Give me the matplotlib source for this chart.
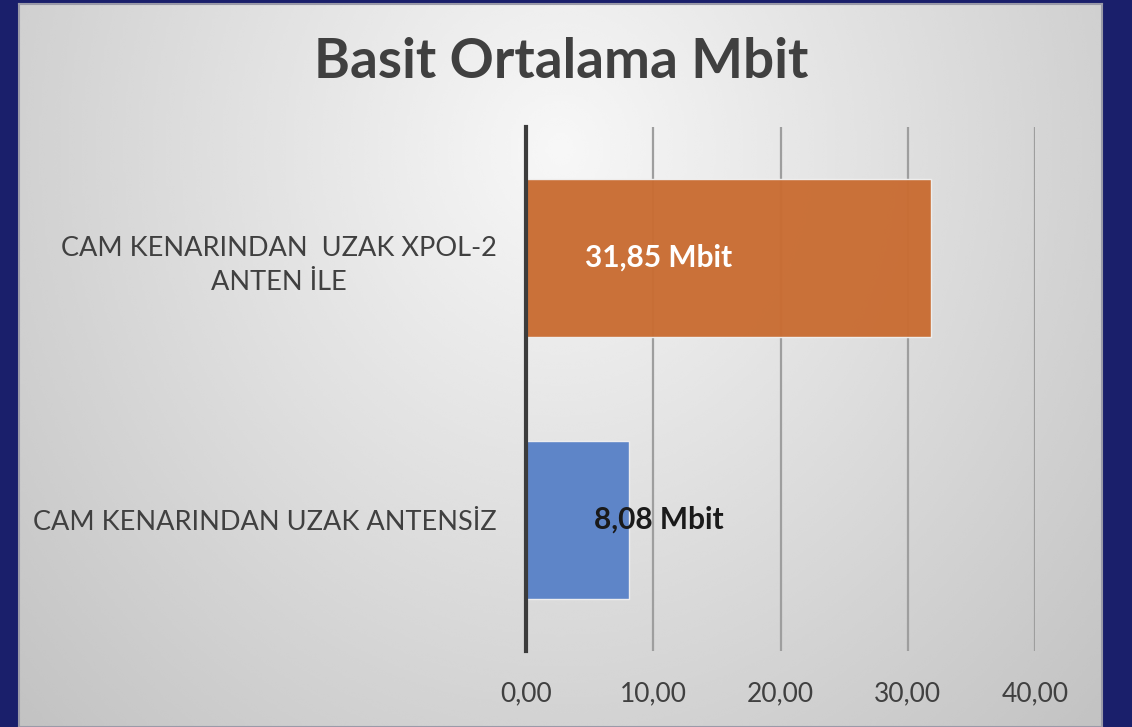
import numpy as np
import matplotlib.pyplot as plt

categories = ["CAM KENARINDAN UZAK ANTENSİZ", "CAM KENARINDAN  UZAK XPOL-2\nANTEN İLE"]
values = [8.08, 31.85]
bar_colors = ["#5A82C8", "#C96D33"]
label_colors = ["#1a1a1a", "white"]
value_labels = ["8,08 Mbit", "31,85 Mbit"]
xticks = [0, 10, 20, 30, 40]
xtick_labels = ["0,00", "10,00", "20,00", "30,00", "40,00"]

plt.rcParams["font.family"] = ["Lato", "DejaVu Sans"]

fig = plt.figure(figsize=(11.32, 7.27), dpi=100)
fig.patch.set_facecolor("#1a1f6b")

# gradient panel behind the chart
bg = fig.add_axes([19 / 1132, 0, (1102 - 19) / 1132, 1 - 4 / 727], zorder=0)
yy, xx = np.mgrid[0:1:300j, 0:1:400j]
r = np.sqrt((xx - 0.5) ** 2 + ((yy - 0.2) * 0.6) ** 2)
shade = 0.97 - 0.3 * r
bg.imshow(shade, cmap="gray", vmin=0, vmax=1, aspect="auto",
          extent=[0, 1, 1, 0], interpolation="bicubic")
bg.set_xlim(0, 1)
bg.set_ylim(1, 0)
for s in bg.spines.values():
    s.set_color("#9a9aa8")
    s.set_linewidth(1.5)
bg.set_xticks([])
bg.set_yticks([])

ax = fig.add_axes([526 / 1132, 1 - 651 / 727, (1035 - 526) / 1132, (651 - 127) / 727], zorder=1)
ax.patch.set_alpha(0)

y = np.arange(len(categories))
ax.barh(y, values, height=0.605, color=bar_colors, edgecolor="#f0f0f0",
        linewidth=1, alpha=0.97, zorder=2)

for i, (txt, col) in enumerate(zip(value_labels, label_colors)):
    ax.text(10.4, y[i], txt, ha="center", va="center", color=col,
            fontsize=21.5, fontweight="bold", zorder=3)

ax.set_xlim(0, 40)
ax.set_ylim(-0.5, 1.5)
ax.set_xticks(xticks)
ax.set_xticklabels(xtick_labels, fontsize=19, color="#404040")
ax.set_yticks(y)
ax.set_yticklabels(categories, fontsize=19.5, color="#404040",
                   multialignment="center", linespacing=1.45)
ax.tick_params(axis="both", length=0)
ax.tick_params(axis="x", pad=22)
ax.tick_params(axis="y", pad=21)
ax.grid(axis="x", color="#9e9e9e", linewidth=1.6, zorder=1)
ax.set_axisbelow(True)
for side in ["top", "right", "bottom"]:
    ax.spines[side].set_visible(False)
ax.spines["left"].set_color("#3c3c3c")
ax.spines["left"].set_linewidth(3)
ax.spines["left"].set_zorder(4)

fig.text(561 / 1132, 1 - 62 / 727, "Basit Ortalama Mbit", ha="center", va="center",
         fontsize=39.5, fontweight="bold", color="#404040")

fig.savefig("out.png", dpi=100, facecolor=fig.get_facecolor())
